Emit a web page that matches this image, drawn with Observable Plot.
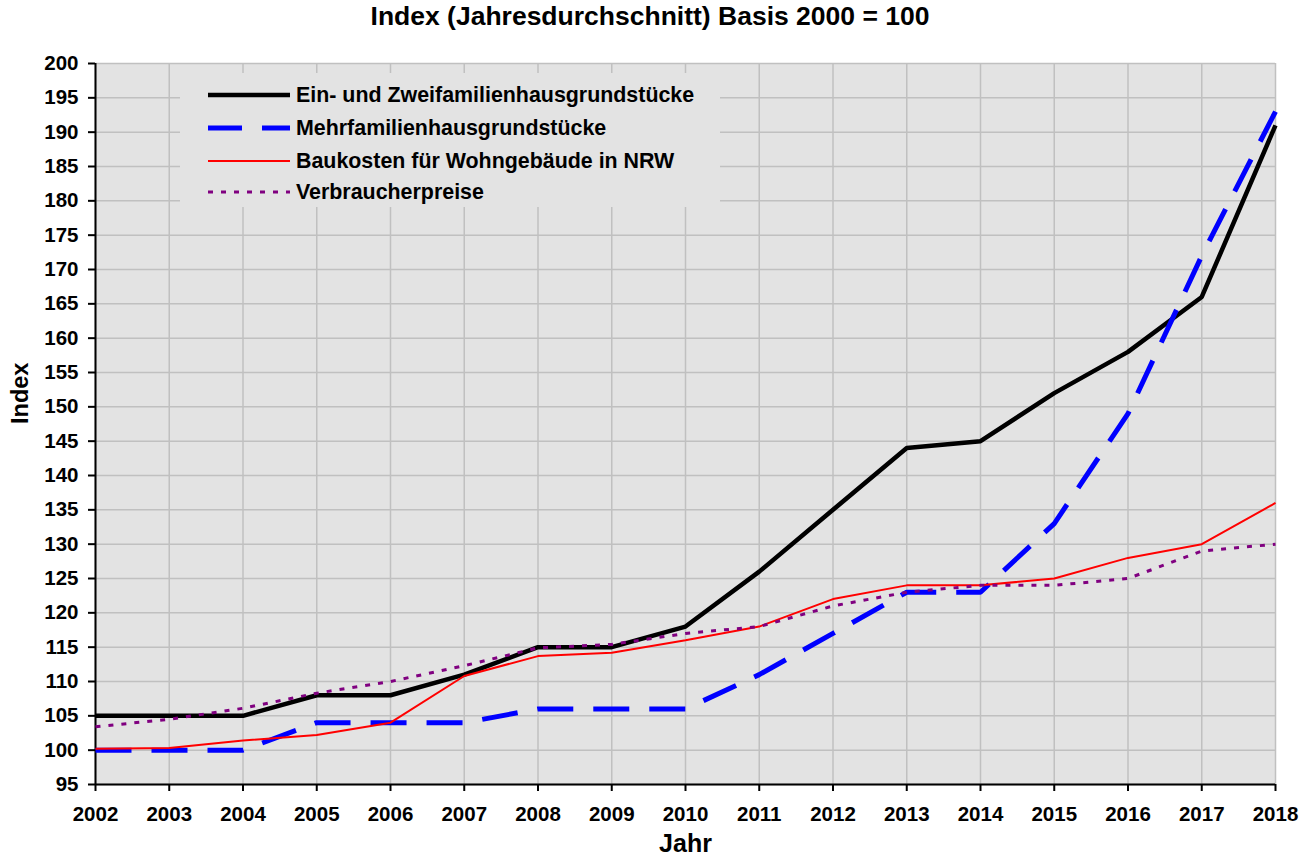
<!DOCTYPE html>
<html>
<head>
<meta charset="utf-8">
<script src="https://cdn.jsdelivr.net/npm/d3@7"></script>
<script src="https://cdn.jsdelivr.net/npm/@observablehq/plot@0.6"></script>
<style>
  html, body { margin: 0; padding: 0; background: white; }
  body { font-family: Arial, "Liberation Sans", sans-serif; }
  #wrap { position: relative; width: 1316px; height: 858px; }
  #title { position: absolute; left: 0; top: 1px; width: 1300px; text-align: center; font-weight: bold; font-size: 26.5px; }
  #chart { position: absolute; left: 0; top: 40px; }
  #legend { position: absolute; left: 180px; top: 73px; width: 540px; height: 134px; background: #e3e3e3; }
  .row { position: absolute; left: 28px; height: 26px; display: flex; align-items: center; font-weight: bold; font-size: 21.4px; white-space: nowrap; }
  .row svg { margin-right: 6px; }
</style>
</head>
<body>
<div id="wrap">
  <div id="title">Index (Jahresdurchschnitt) Basis 2000 = 100</div>
  <div id="chart"></div>
  <div id="legend"></div>
</div>
<script>
const years = [2002,2003,2004,2005,2006,2007,2008,2009,2010,2011,2012,2013,2014,2015,2016,2017,2018];
const einZweifamilien = [105,105,105,108,108,111,115,115,118,126,135,144,145,152,158,166,191];
const mehrfamilien = [100,100,100,104,104,104,106,106,106,111,117,123,123,133,149,172,193];
const baukosten = [100.2,100.3,101.4,102.2,104,110.8,113.7,114.2,116,118,122,124,124,125,128,130,136];
const verbraucherpreise = [103.4,104.5,106.1,108.3,110,112.3,114.9,115.4,117,118,121,123,124,124,125,129,130];
const seriesNames = ["Ein- und Zweifamilienhausgrundstücke","Mehrfamilienhausgrundstücke","Baukosten für Wohngebäude in NRW","Verbraucherpreise"];
const yTicks = d3.range(95, 201, 5);

const styles = [
  {stroke: "#000000", strokeWidth: 4.5, dash: null},
  {stroke: "#0000ff", strokeWidth: 5, dash: "36,20"},
  {stroke: "#ff0000", strokeWidth: 2, dash: null},
  {stroke: "#800080", strokeWidth: 3, dash: "5,8"}
];
const allSeries = [einZweifamilien, mehrfamilien, baukosten, verbraucherpreise];

const lineMarks = allSeries.map((vals, k) => Plot.line(vals, {
  x: (d, i) => years[i], y: d => d,
  stroke: styles[k].stroke, strokeWidth: styles[k].strokeWidth,
  strokeDasharray: styles[k].dash, strokeLinejoin: "miter", strokeLinecap: "butt"
}));

const chart = Plot.plot({
  width: 1316,
  height: 818,
  marginTop: 23,
  marginLeft: 95,
  marginRight: 41,
  marginBottom: 74,
  style: {fontFamily: "Arial, 'Liberation Sans', sans-serif", fontSize: "20px", fontWeight: "bold", color: "black", background: "white"},
  x: {domain: [2002, 2018]},
  y: {domain: [95, 200]},
  marks: [
    Plot.frame({fill: "#e3e3e3", stroke: null}),
    Plot.gridX(years, {stroke: "#c0c0c0", strokeOpacity: 1, strokeWidth: 1.5}),
    Plot.gridY(yTicks, {stroke: "#c0c0c0", strokeOpacity: 1, strokeWidth: 1.5}),
    Plot.axisX(years, {tickFormat: d => String(d), tickSize: 7, tickPadding: 15, stroke: "black", strokeWidth: 2, label: null, fontSize: 20.5, fontWeight: "bold"}),
    Plot.axisY(yTicks, {tickSize: 7, tickPadding: 10, stroke: "black", strokeWidth: 2, label: null, fontSize: 20.5, fontWeight: "bold"}),
    Plot.ruleX([2002], {stroke: "black", strokeWidth: 2}),
    Plot.ruleY([95], {stroke: "black", strokeWidth: 2}),
    ...lineMarks,
    Plot.text(["Jahr"], {frameAnchor: "bottom", dy: 67, text: d => d, fontSize: 25, fontWeight: "bold"}),
    Plot.text(["Index"], {frameAnchor: "left", dx: -75, rotate: -90, text: d => d, fontSize: 23.5, fontWeight: "bold"})
  ]
});
document.getElementById("chart").appendChild(chart);

const legend = document.getElementById("legend");
const rowTops = [9, 42, 75, 106];
seriesNames.forEach((name, k) => {
  const row = document.createElement("div");
  row.className = "row";
  row.style.top = rowTops[k] + "px";
  const s = styles[k];
  row.innerHTML = `<svg width="82" height="10"><line x1="0" y1="5" x2="82" y2="5" stroke="${s.stroke}" stroke-width="${s.strokeWidth}" ${s.dash ? `stroke-dasharray="${k===1 ? '34,20' : '5,8'}"` : ''} stroke-linecap="${k===0 ? 'round' : 'butt'}"/></svg><span>${name}</span>`;
  legend.appendChild(row);
});
</script>
</body>
</html>
